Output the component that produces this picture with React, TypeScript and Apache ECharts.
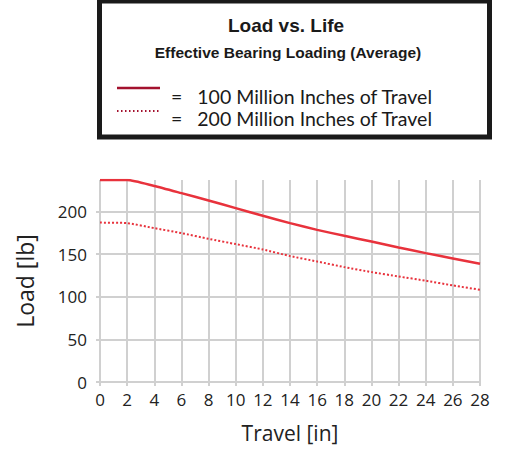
import React, { useEffect, useRef } from "react";
import * as echarts from "echarts";

const travel = [0, 2, 4, 6, 8, 10, 12, 14, 16, 18, 20, 22, 24, 26, 28];
const load100M = [237, 237, 230, 221.6, 213, 204, 195, 186.4, 178.5, 171.5, 164.8, 157.8, 151.2, 145, 138.7];
const load200M = [187, 186.4, 180.5, 174.7, 168, 161.8, 155.5, 147.8, 141.4, 134.8, 129, 123.8, 118.8, 113.3, 108.2];
const yTicks = [0, 50, 100, 150, 200];
const titleText = "Load vs. Life";
const subtitleText = "Effective Bearing Loading (Average)";
const legendLabels = ["=   100 Million Inches of Travel", "=   200 Million Inches of Travel"];

export default function App() {
  const ref = useRef<HTMLDivElement>(null);
  useEffect(() => {
    if (!ref.current) return;
    const chart = echarts.init(ref.current, undefined, { renderer: "svg" });
    const red = "#e8323c";
    const legendRed = "#a3112e";
    const grey = "#d0d0d0";
    const axisFont = "Open Sans";
    chart.setOption({
      animation: false,
      backgroundColor: "#ffffff",
      grid: { left: 100, right: 27, top: 180, bottom: 68 },
      xAxis: {
        type: "value",
        min: 0,
        max: 28,
        interval: 2,
        name: "Travel [in]",
        nameLocation: "middle",
        nameGap: 40,
        nameTextStyle: { fontFamily: axisFont, fontSize: 21, color: "#222" },
        axisLine: { show: false },
        axisTick: { show: true, length: 4, lineStyle: { color: grey, width: 2 } },
        splitLine: { show: true, lineStyle: { color: grey, width: 2 } },
        axisLabel: { fontFamily: axisFont, fontSize: 17, color: "#222", margin: 9 },
      },
      yAxis: {
        type: "value",
        min: 0,
        max: 237,
        name: "Load [lb]",
        nameLocation: "middle",
        nameGap: 64,
        nameTextStyle: { fontFamily: axisFont, fontSize: 23, color: "#222" },
        axisLine: { show: false },
        axisTick: { show: true, length: 4, customValues: yTicks, lineStyle: { color: grey, width: 2 } },
        splitLine: { show: true, lineStyle: { color: grey, width: 2 } },
        axisLabel: { fontFamily: axisFont, fontSize: 17, color: "#222", margin: 13, customValues: yTicks },
      },
      series: [
        {
          type: "line",
          name: "100M",
          data: travel.map((t, i) => [t, load100M[i]]),
          showSymbol: false,
          smooth: 0.2,
          lineStyle: { color: red, width: 2.5 },
          z: 5,
        },
        {
          type: "line",
          name: "200M",
          data: travel.map((t, i) => [t, load200M[i]]),
          showSymbol: false,
          smooth: 0.2,
          lineStyle: { color: red, width: 2, type: [2, 2] },
          z: 5,
        },
      ],
      graphic: [
        {
          type: "rect",
          shape: { x: 99.5, y: 1, width: 390, height: 136 },
          style: { fill: "#fff", stroke: "#1a1a1a", lineWidth: 5 },
        },
        {
          type: "text",
          x: 286,
          y: 25,
          style: {
            text: titleText,
            fontFamily: "Liberation Sans",
            fontWeight: "bold",
            fontSize: 19,
            fill: "#1a1a1a",
            align: "center",
            verticalAlign: "middle",
          },
        },
        {
          type: "text",
          x: 288,
          y: 52,
          style: {
            text: subtitleText,
            fontFamily: "Liberation Sans",
            fontWeight: "bold",
            fontSize: 15.5,
            fill: "#1a1a1a",
            align: "center",
            verticalAlign: "middle",
          },
        },
        {
          type: "line",
          shape: { x1: 117, y1: 88, x2: 160, y2: 88 },
          style: { stroke: legendRed, lineWidth: 2.5 },
        },
        {
          type: "line",
          shape: { x1: 117, y1: 111, x2: 160, y2: 111 },
          style: { stroke: legendRed, lineWidth: 2, lineDash: [1.5, 2.5] },
        },
        {
          type: "text",
          x: 171,
          y: 96,
          style: {
            text: legendLabels[0],
            fontFamily: "Lato",
            fontSize: 19.5,
            fill: "#1a1a1a",
            align: "left",
            verticalAlign: "middle",
          },
        },
        {
          type: "text",
          x: 171,
          y: 118,
          style: {
            text: legendLabels[1],
            fontFamily: "Lato",
            fontSize: 19.5,
            fill: "#1a1a1a",
            align: "left",
            verticalAlign: "middle",
          },
        },
      ],
    });
    return () => chart.dispose();
  }, []);
  return <div ref={ref} style={{ width: 507, height: 450, position: "absolute", left: 0, top: 0 }} />;
}
